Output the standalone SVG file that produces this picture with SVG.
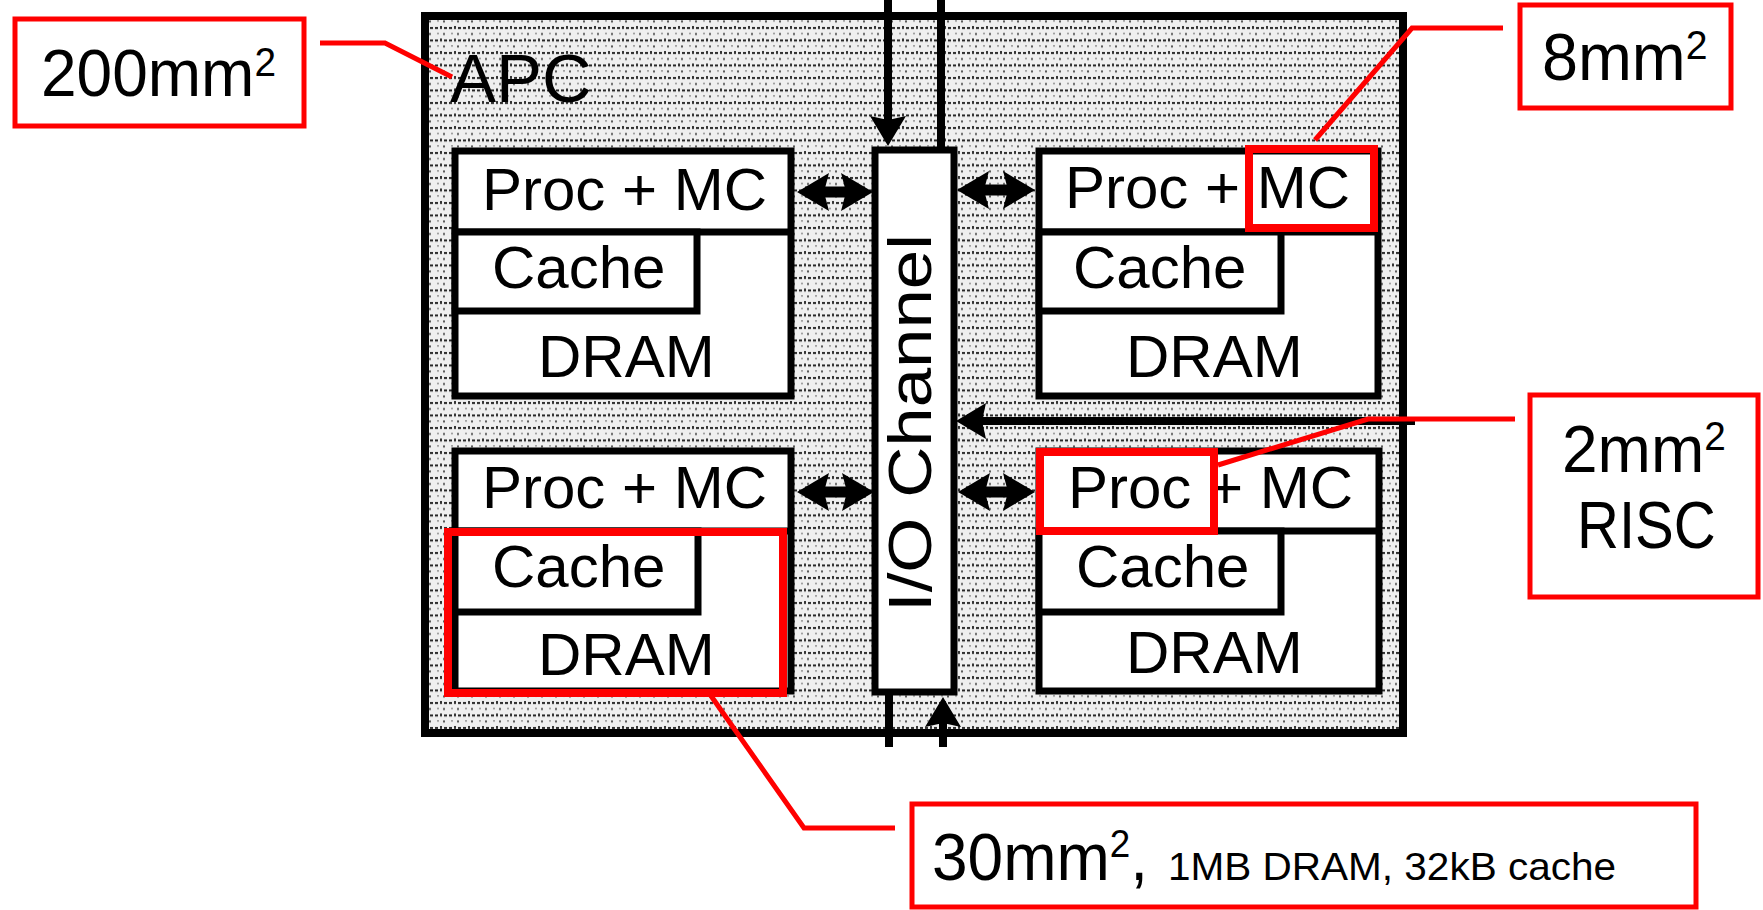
<svg xmlns="http://www.w3.org/2000/svg" width="1763" height="910" viewBox="0 0 1763 910">
<style>
.blk{fill:#fff;stroke:#000;stroke-width:7}
.lbl{font-family:"Liberation Sans",Arial,sans-serif;font-size:60px;fill:#000}
.ln{stroke:#000;stroke-width:8;fill:none}
.arr{stroke:#000;stroke-width:11;fill:none}
.hl{fill:none;stroke:#ff0000;stroke-width:8}
.cb{fill:#fff;stroke:#ff0000;stroke-width:5}
.ld{fill:none;stroke:#ff0000;stroke-width:5}
.ct{font-family:"Liberation Sans",Arial,sans-serif;font-size:66px;fill:#000}
.sup{font-size:40px}
</style>
<defs>
<pattern id="stip" width="14" height="12.5" patternUnits="userSpaceOnUse">
<rect width="14" height="12.5" fill="#efefef"/>
<rect x="1" y="2" width="3" height="2" fill="#222"/>
<rect x="6" y="1" width="2" height="3" fill="#333"/>
<rect x="10" y="2" width="3" height="2" fill="#222"/>
<rect x="3" y="8" width="2" height="1" fill="#666"/>
<rect x="9" y="8" width="2" height="2" fill="#555"/>
</pattern>
<marker id="ah" viewBox="0 0 30 36" refX="22" refY="18" markerWidth="30" markerHeight="36" markerUnits="userSpaceOnUse" orient="auto-start-reverse">
<path d="M0,0 L30,18 L0,36 L4,18 z" fill="#000"/>
</marker>
<marker id="ah2" viewBox="0 0 32 38" refX="24" refY="19" markerWidth="32" markerHeight="38" markerUnits="userSpaceOnUse" orient="auto-start-reverse">
<path d="M0,0 L32,19 L0,38 L5,19 z" fill="#000"/>
</marker>
</defs>
<rect width="1763" height="910" fill="#fff"/>

<g id="apc">
<rect x="425" y="16" width="978" height="717" fill="url(#stip)" stroke="#000" stroke-width="8"/>
<text class="lbl" x="450" y="102" style="font-size:69px">APC</text>
</g>

<g id="connectors">
<line class="ln" x1="888" y1="0" x2="888" y2="138" marker-end="url(#ah)"/>
<line class="ln" x1="941" y1="0" x2="941" y2="150"/>
<line class="ln" x1="889" y1="692" x2="889" y2="747"/>
<line class="ln" x1="943" y1="747" x2="943" y2="705" marker-end="url(#ah)"/>
<line class="ln" x1="1415" y1="421" x2="964" y2="421" marker-end="url(#ah)"/>
<line class="arr" x1="805" y1="192" x2="865" y2="192" marker-start="url(#ah2)" marker-end="url(#ah2)"/>
<line class="arr" x1="805" y1="492" x2="866" y2="492" marker-start="url(#ah2)" marker-end="url(#ah2)"/>
<line class="arr" x1="965" y1="190" x2="1027" y2="190" marker-start="url(#ah2)" marker-end="url(#ah2)"/>
<line class="arr" x1="966" y1="492" x2="1027" y2="492" marker-start="url(#ah2)" marker-end="url(#ah2)"/>
</g>

<g id="io-channel">
<rect class="blk" x="875" y="150" width="79" height="542"/>
<text class="lbl" transform="translate(931,612) rotate(-90)" x="0" y="0" style="font-size:62px" textLength="378" lengthAdjust="spacingAndGlyphs">I/O Channel</text>
</g>

<g id="node-tl">
<rect class="blk" x="455" y="151" width="336" height="245"/>
<line class="blk" x1="455" y1="232" x2="791" y2="232"/>
<rect class="blk" x="455" y="232" width="242" height="79"/>
<text class="lbl" x="482" y="210">Proc + MC</text>
<text class="lbl" x="492" y="288">Cache</text>
<text class="lbl" x="538" y="377">DRAM</text>
</g>

<g id="node-tr">
<rect class="blk" x="1039" y="151" width="339" height="245"/>
<line class="blk" x1="1039" y1="232" x2="1378" y2="232"/>
<rect class="blk" x="1039" y="232" width="242" height="79"/>
<text class="lbl" x="1065" y="208">Proc + MC</text>
<text class="lbl" x="1073" y="288">Cache</text>
<text class="lbl" x="1126" y="377">DRAM</text>
</g>

<g id="node-bl">
<rect class="blk" x="455" y="451" width="336" height="240"/>
<line class="blk" x1="455" y1="531" x2="791" y2="531"/>
<rect class="blk" x="455" y="531" width="243" height="81"/>
<text class="lbl" x="482" y="508">Proc + MC</text>
<text class="lbl" x="492" y="587">Cache</text>
<text class="lbl" x="538" y="675">DRAM</text>
</g>

<g id="node-br">
<rect class="blk" x="1039" y="451" width="340" height="240"/>
<line class="blk" x1="1039" y1="531" x2="1379" y2="531"/>
<rect class="blk" x="1039" y="531" width="242" height="81"/>
<text class="lbl" x="1068" y="508">Proc + MC</text>
<text class="lbl" x="1076" y="587">Cache</text>
<text class="lbl" x="1126" y="673">DRAM</text>
</g>

<g id="highlights">
<rect class="hl" x="1249" y="149" width="125" height="79"/>
<rect class="hl" x="1040" y="452" width="174" height="79"/>
<rect class="hl" x="448" y="532" width="335" height="161"/>
</g>

<g id="leaders">
<polyline class="ld" points="320,43 385,43 452,77"/>
<polyline class="ld" points="1503,28 1412,28 1315,140"/>
<polyline class="ld" points="1515,419 1368,419 1218,465"/>
<polyline class="ld" points="709,693 804,828 895,828"/>
</g>

<g id="callout-200">
<rect class="cb" x="15" y="19" width="289" height="107"/>
<text class="ct" transform="translate(41,96) scale(0.97,1)">200mm<tspan class="sup" dy="-20">2</tspan></text>
</g>

<g id="callout-8">
<rect class="cb" x="1520" y="5" width="211" height="103"/>
<text class="ct" transform="translate(1542,80) scale(0.98,1)">8mm<tspan class="sup" dy="-21">2</tspan></text>
</g>

<g id="callout-2">
<rect class="cb" x="1530" y="395" width="228" height="202"/>
<text class="ct" transform="translate(1562,472) scale(0.97,1)">2mm<tspan class="sup" dy="-22">2</tspan></text>
<text class="ct" transform="translate(1577,548) scale(0.88,1)">RISC</text>
</g>

<g id="callout-30">
<rect class="cb" x="912" y="804" width="784" height="103"/>
<text class="ct" transform="translate(932,880) scale(0.97,1)">30mm<tspan class="sup" style="font-size:38px" dy="-23">2</tspan><tspan dy="23">,</tspan></text>
<text class="ct" x="1168" y="880" style="font-size:39px" textLength="448" lengthAdjust="spacingAndGlyphs">1MB DRAM, 32kB cache</text>
</g>
</svg>
